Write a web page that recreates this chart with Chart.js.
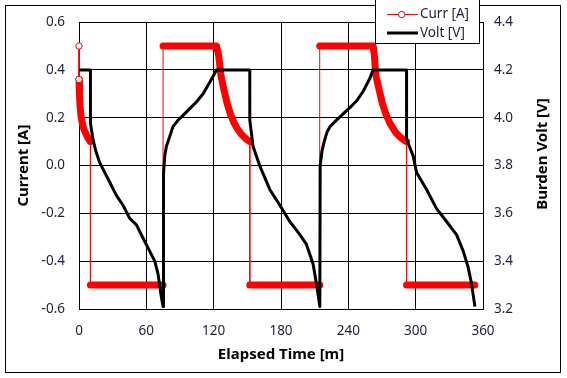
<!DOCTYPE html>
<html><head><meta charset="utf-8">
<script src="https://cdn.jsdelivr.net/npm/chart.js@4/dist/chart.umd.min.js"></script>
<style>html,body{margin:0;padding:0;background:#fff}canvas{display:block}</style>
</head><body>
<canvas id="c" width="567" height="378"></canvas>
<script>
// ---- data ----
const timeTicks = [0, 60, 120, 180, 240, 300, 360];
const currTicks = [-0.6, -0.4, -0.2, 0.0, 0.2, 0.4, 0.6];
const voltTicks = [3.2, 3.4, 3.6, 3.8, 4.0, 4.2, 4.4];

const currTime = [0, 0, 0.4, 0.9, 1.8, 2.9, 4.3, 5.8, 7.5, 9, 10.2, 10.2, 74.9, 74.9,
  122.5, 124.5, 126.4, 129, 132, 135, 138, 141, 144, 147, 150, 152.2, 152.2, 214.5, 214.5,
  262.1, 263.2, 264.4, 267.3, 270.3, 273.5, 277, 280, 282.5, 286, 289.2, 291.9, 291.9, 352.7];
const currVal = [0.5, 0.36, 0.30, 0.25, 0.205, 0.177, 0.153, 0.136, 0.12, 0.108, 0.10, -0.5, -0.5, 0.5,
  0.5, 0.46, 0.38, 0.32, 0.26, 0.215, 0.18, 0.155, 0.135, 0.12, 0.107, 0.10, -0.5, -0.5, 0.5,
  0.5, 0.46, 0.38, 0.32, 0.26, 0.215, 0.177, 0.155, 0.136, 0.12, 0.107, 0.10, -0.5, -0.5];

const voltTime = [0, 10.2, 10.2, 12.5, 15, 18.5, 21.4, 27.4, 33.3, 39.2, 45.2, 51.2, 57, 63, 67.5, 70.4, 73.4, 74.9,
  75.3, 76.4, 77.9, 80.9, 83.8, 88.3, 92.7, 98.7, 104.6, 110.6, 116.5, 122.5,
  152.2, 152.2, 155.1, 161, 170, 179, 187.8, 196.8, 202.7, 208.6, 211.6, 214.6,
  214.9, 216.5, 218.5, 221, 224, 229.5, 234, 238.4, 243, 247.3, 253.2, 259.2, 262.1,
  291.9, 291.9, 297.8, 300.8, 309.7, 318.6, 327.5, 336.4, 342.4, 346.8, 349.8, 352.8];
const voltVal = [4.2, 4.2, 3.977, 3.908, 3.86, 3.812, 3.785, 3.73, 3.675, 3.634, 3.579, 3.552, 3.497, 3.442, 3.40, 3.347, 3.25, 3.21,
  3.764, 3.84, 3.881, 3.922, 3.963, 3.99, 4.01, 4.038, 4.066, 4.10, 4.148, 4.2,
  4.2, 3.99, 3.88, 3.80, 3.70, 3.634, 3.566, 3.511, 3.47, 3.388, 3.305, 3.21,
  3.80, 3.86, 3.90, 3.94, 3.965, 3.99, 4.01, 4.03, 4.05, 4.07, 4.11, 4.165, 4.2,
  4.2, 3.91, 3.84, 3.771, 3.70, 3.62, 3.566, 3.511, 3.442, 3.374, 3.305, 3.21];

const seriesNames = ['Curr [A]', 'Volt [V]'];
const axisTitles = {x: 'Elapsed Time [m]', y: 'Current [A]', y2: 'Burden Volt [V]'};

// ---- styling ----
const FONT = '"Noto Sans", "Open Sans", sans-serif';
const TICK_COLOR = '#1e1e3c';
const RED = '#ff0000';

const currData = currTime.map((t, i) => ({x: t, y: currVal[i]}));
const voltData = voltTime.map((t, i) => ({x: t, y: voltVal[i]}));

const fmt1 = v => (Math.abs(v) < 1e-9 ? 0 : v).toFixed(1);

const framePlugin = {
  id: 'frame',
  beforeDraw(chart) {
    const ctx = chart.ctx;
    ctx.save();
    ctx.fillStyle = '#fff';
    ctx.fillRect(0, 0, chart.width, chart.height);
    ctx.restore();
  },
  afterDraw(chart) {
    const ctx = chart.ctx;
    ctx.save();
    // outer frame
    ctx.strokeStyle = '#000';
    ctx.lineWidth = 1;
    ctx.strokeRect(5.5, 5.5, 555, 367);
    // right axis title (reads bottom-to-top)
    ctx.translate(543, 154);
    ctx.rotate(-Math.PI / 2);
    ctx.font = 'bold 15px ' + FONT;
    ctx.fillStyle = '#000';
    ctx.textAlign = 'center';
    ctx.textBaseline = 'middle';
    ctx.fillText(axisTitles.y2, 0, 0);
    ctx.restore();

    // legend box
    ctx.save();
    ctx.fillStyle = '#fff';
    ctx.fillRect(375, 0, 104, 44);
    ctx.strokeStyle = '#000';
    ctx.lineWidth = 1;
    ctx.strokeRect(375.5, -0.5, 104, 44);
    const ds = chart.data.datasets;
    ctx.strokeStyle = ds[0].borderColor;
    ctx.lineWidth = 1;
    ctx.beginPath(); ctx.moveTo(387, 14.5); ctx.lineTo(418, 14.5); ctx.stroke();
    ctx.fillStyle = '#fff';
    ctx.beginPath(); ctx.arc(401.7, 14.5, 3.2, 0, Math.PI * 2); ctx.fill(); ctx.stroke();
    ctx.strokeStyle = ds[1].borderColor;
    ctx.lineWidth = 3;
    ctx.beginPath(); ctx.moveTo(387, 33); ctx.lineTo(418, 33); ctx.stroke();
    ctx.font = '13.5px ' + FONT;
    ctx.fillStyle = TICK_COLOR;
    ctx.textAlign = 'left';
    ctx.textBaseline = 'middle';
    ctx.fillText(ds[0].label, 420, 14.5);
    ctx.fillText(ds[1].label, 420, 33);
    ctx.restore();
  }
};

new Chart(document.getElementById('c'), {
  type: 'line',
  data: {
    datasets: [
      {
        label: seriesNames[0],
        data: currData,
        yAxisID: 'y',
        order: 1,
        clip: false,
        borderColor: RED,
        backgroundColor: '#fff',
        borderWidth: 7,
        borderCapStyle: 'round',
        borderJoinStyle: 'round',
        tension: 0,
        pointRadius: ctx => (ctx.dataIndex <= 1 ? 3.2 : 0),
        pointBorderColor: RED,
        pointBackgroundColor: '#fff',
        pointBorderWidth: 1,
        segment: {
          borderWidth: c => (c.p0.parsed.x === c.p1.parsed.x ? 1 : 7)
        }
      },
      {
        label: seriesNames[1],
        data: voltData,
        yAxisID: 'y2',
        order: 0,
        clip: false,
        borderColor: '#000',
        borderWidth: 3,
        borderJoinStyle: 'round',
        borderCapStyle: 'butt',
        tension: 0,
        pointRadius: 0
      }
    ]
  },
  options: {
    responsive: false,
    animation: false,
    devicePixelRatio: 1,
    events: [],
    layout: {padding: {top: 17, left: 0, right: 0, bottom: 0}},
    plugins: {legend: {display: false}, tooltip: {enabled: false}},
    scales: {
      x: {
        type: 'linear',
        min: 0, max: 360,
        afterBuildTicks: s => { s.ticks = timeTicks.map(v => ({value: v})); },
        afterFit: s => { s.height = 69; },
        ticks: {font: {family: FONT, size: 13.5}, color: TICK_COLOR, padding: 14, maxRotation: 0, autoSkip: false,
          callback: v => String(v)},
        grid: {color: '#000', lineWidth: 1, drawTicks: false},
        border: {color: '#000', width: 1},
        title: {display: true, text: axisTitles.x, color: '#000',
          font: {family: FONT, size: 15, weight: 'bold'}, padding: {top: 0, bottom: 14}}
      },
      y: {
        type: 'linear', position: 'left',
        min: -0.6, max: 0.6,
        afterBuildTicks: s => { s.ticks = currTicks.map(v => ({value: v})); },
        afterFit: s => { s.width = 79; },
        ticks: {font: {family: FONT, size: 13.5}, color: TICK_COLOR, padding: 14, autoSkip: false, callback: fmt1},
        grid: {color: '#000', lineWidth: 1, drawTicks: false},
        border: {color: '#000', width: 1},
        title: {display: true, text: axisTitles.y, color: '#000',
          font: {family: FONT, size: 15, weight: 'bold'}, padding: {top: 15, bottom: 0}}
      },
      y2: {
        type: 'linear', position: 'right',
        min: 3.2, max: 4.4,
        afterBuildTicks: s => { s.ticks = voltTicks.map(v => ({value: v})); },
        afterFit: s => { s.width = 84; },
        ticks: {font: {family: FONT, size: 13.5}, color: TICK_COLOR, padding: 11, autoSkip: false, callback: fmt1},
        grid: {drawOnChartArea: false, drawTicks: false},
        border: {color: '#000', width: 1},
        title: {display: false}
      }
    }
  },
  plugins: [framePlugin]
});
</script>
</body></html>
